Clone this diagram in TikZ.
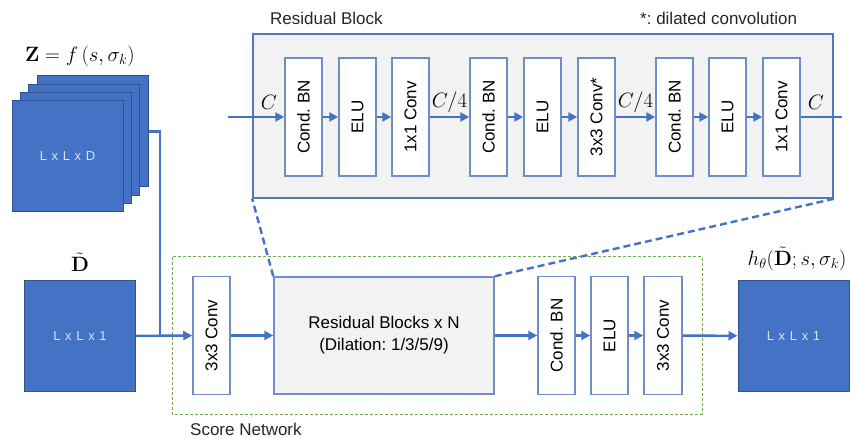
\documentclass[tikz,border=0pt]{standalone}
\usepackage[no-math]{fontspec}
\newfontfamily\sansfnt{Liberation Sans}
\newfontfamily\dimfont[LetterSpace=8]{Liberation Sans}
\usetikzlibrary{arrows.meta}
\definecolor{arrblue}{HTML}{4472C4}
\definecolor{boxedge}{HTML}{6F8FC4}
\definecolor{outeredge}{HTML}{5577B5}
\definecolor{sqedge}{HTML}{2F528F}
\definecolor{lightfill}{HTML}{F2F2F2}
\definecolor{netgreen}{HTML}{70AD47}
\definecolor{dimtext}{HTML}{DAE3F3}
\frenchspacing
\begin{document}
\begin{tikzpicture}[x=1pt,y=-1pt,
  blk/.style={draw=boxedge, line width=1.5pt, fill=white, rotate=90,
    minimum width=118pt, minimum height=37pt, inner sep=0pt,
    font=\sansfnt\fontsize{17}{17}\selectfont, text=black},
  sq/.style={draw=sqedge, line width=1pt, fill=arrblue, minimum width=111pt,
    minimum height=111pt, inner sep=0pt, text=dimtext,
    font=\dimfont\fontsize{13}{13}\selectfont},
  arr/.style={draw=arrblue, line width=2.4pt, -{Triangle[length=9pt,width=9pt]}},
  ln/.style={draw=arrblue, line width=2.4pt},
  dsh/.style={draw=arrblue, line width=2.4pt, dash pattern=on 7pt off 4pt},
  lbl/.style={font=\sansfnt\fontsize{17}{17}\selectfont, text=black!85, inner sep=0pt},
  mlbl/.style={font=\fontsize{20}{20}\selectfont, inner sep=0pt}
]
\useasboundingbox (0,0) rectangle (857,438);

% Residual block detail
\node[draw=outeredge, line width=1.6pt, fill=lightfill, minimum width=580pt,
  minimum height=164pt, inner sep=0pt] (resblock) at (543,116) {};
\node[lbl, anchor=west] (rbtitle) at (270,18) {Residual Block};
\node[lbl, anchor=west] (rbnote) at (640,18) {*: dilated convolution};

\node[blk] (r1) at (303.5,117) {Cond. BN};
\node[blk] (r2) at (357.5,117) {ELU};
\node[blk] (r3) at (410.5,117) {1x1 Conv};
\node[blk] (r4) at (488.5,117) {Cond. BN};
\node[blk] (r5) at (542.5,117) {ELU};
\node[blk] (r6) at (596.5,117) {3x3 Conv*};
\node[blk] (r7) at (674.5,117) {Cond. BN};
\node[blk] (r8) at (727.5,117) {ELU};
\node[blk] (r9) at (781.5,117) {1x1 Conv};

\coordinate (rin) at (228,117);
\coordinate (rout) at (842,117);
\draw[arr] (rin) -- (r1);
\draw[arr] (r1) -- (r2);
\draw[arr] (r2) -- (r3);
\draw[arr] (r3) -- (r4);
\draw[arr] (r4) -- (r5);
\draw[arr] (r5) -- (r6);
\draw[arr] (r6) -- (r7);
\draw[arr] (r7) -- (r8);
\draw[arr] (r8) -- (r9);
\draw[ln] (r9) -- (rout);

\node[mlbl] (c1) at (269,102) {$C$};
\node[mlbl] (c2) at (449.5,102) {$C/4$};
\node[mlbl] (c3) at (635.5,102) {$C/4$};
\node[mlbl] (c4) at (816,102) {$C$};

% Input stack Z
\node[sq] (z4) at (92.5,131.5) {};
\node[sq] (z3) at (84,140) {};
\node[sq] (z2) at (76,148) {};
\node[sq] (z1) at (67.5,156.5) {L x L x D};
\node[mlbl] (zlbl) at (80,56) {$\mathbf{Z}=f\left(s,\sigma_k\right)$};

% Input D
\node[sq] (dsq) at (80,336) {L x L x 1};
\node[mlbl] (dlbl) at (80,262) {$\tilde{\mathbf{D}}$};

% Score network
\draw[netgreen, line width=1pt, dash pattern=on 3pt off 2pt] (172,257) rectangle (702,414);
\node[lbl, anchor=west] (sntitle) at (190,429) {Score Network};

\node[blk, minimum height=37pt] (conv1) at (211.5,335.5) {3x3 Conv};
\node[draw=boxedge, line width=1.5pt, fill=lightfill, minimum width=220pt,
  minimum height=117pt, inner sep=0pt, align=center,
  font=\sansfnt\fontsize{17}{22}\selectfont, text=black] (resN) at (384,335.5)
  {Residual Blocks x N\\(Dilation: 1/3/5/9)};
\node[blk] (cbn) at (556.5,335.5) {Cond. BN};
\node[blk] (elu) at (609.5,335.5) {ELU};
\node[blk, minimum height=38pt] (conv2) at (663,335.5) {3x3 Conv};

\node[sq] (osq) at (793.5,336) {L x L x 1};
\node[mlbl] (olbl) at (797,259) {$h_\theta(\tilde{\mathbf{D}};s,\sigma_k)$};

\coordinate (j) at (160,336);
\draw[ln] (z4.east) -| (j);
\draw[arr] (dsq) -- (conv1);
\draw[arr] (conv1) -- (resN);
\draw[arr] (resN) -- (cbn);
\draw[arr] (cbn) -- (elu);
\draw[arr] (elu) -- (conv2);
\draw[arr] (conv2) -- (osq);

\draw[dsh] (resN.north west) -- (resblock.south west);
\draw[dsh] (resN.north east) -- (resblock.south east);
\end{tikzpicture}
\end{document}
